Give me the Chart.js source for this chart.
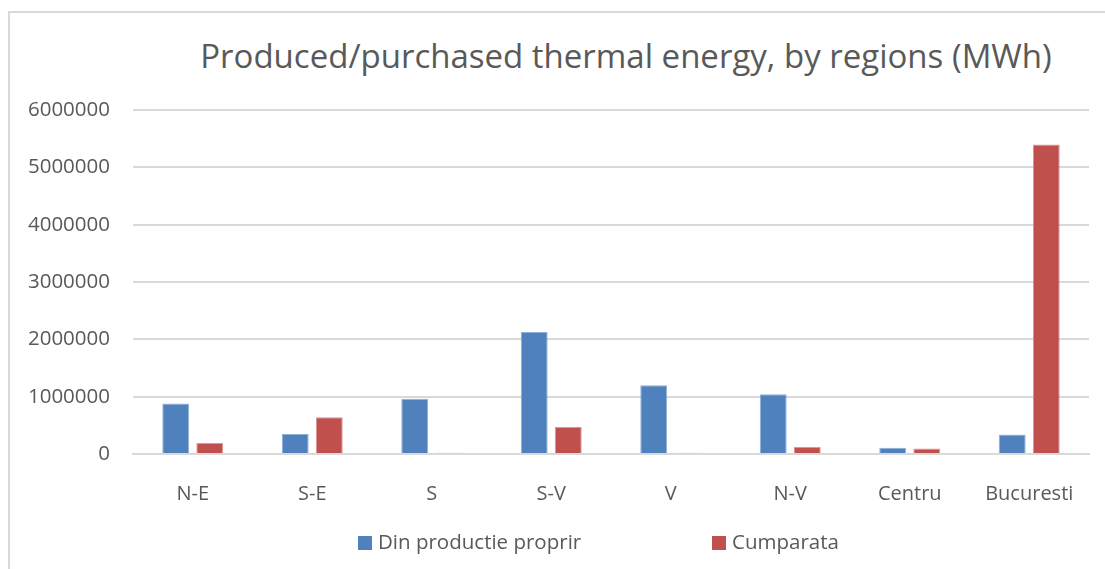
<!DOCTYPE html>
<html>
<head>
<meta charset="utf-8">
<script src="https://cdn.jsdelivr.net/npm/chart.js@4/dist/chart.umd.min.js"></script>
<style>
  body { margin: 0; background: #fff; font-family: "Open Sans", sans-serif; }
  #wrap { position: relative; width: 1105px; height: 569px; overflow: hidden; }
  #frame { position: absolute; left: 8px; top: 11px; width: 1200px; height: 700px;
           border-top: 2px solid #d9d9d9; border-left: 2px solid #d9d9d9; }
  #title { position: absolute; left: 0; width: 1252px; top: 33px; text-align: center;
           font-size: 33px; color: #595959; }
  #legend { position: absolute; top: 527px; left: 0; width: 1105px; height: 26px; font-size: 20.5px; color: #595959; }
  .item { position: absolute; top: 0; white-space: nowrap; }
  .box { display: inline-block; width: 14px; height: 14px; margin-right: 6px; vertical-align: -1px; }
  canvas { position: absolute; left: 0; top: 0; }
</style>
</head>
<body>
<div id="wrap">
  <div id="frame"></div>
  <div id="title">Produced/purchased thermal energy, by regions (MWh)</div>
  <canvas id="myChart" width="1105" height="569"></canvas>
  <div id="legend"></div>
</div>
<script>
const regions = ['N-E', 'S-E', 'S', 'S-V', 'V', 'N-V', 'Centru', 'Bucuresti'];
const ownProduction = [880000, 350000, 965000, 2130000, 1200000, 1040000, 110000, 340000];
const purchased = [190000, 640000, 22000, 470000, 20000, 120000, 95000, 5400000];
const seriesNames = ['Din productie proprir', 'Cumparata'];
const yTicks = [0, 1000000, 2000000, 3000000, 4000000, 5000000, 6000000];

const colors = ['#4f81bd', '#c0504d'];
const borders = ['#8fb0d8', '#d99694'];
const legendX = [358, 712];

function drawChart() {
    const ctx = document.getElementById('myChart').getContext('2d');
    const font = { family: '"Open Sans", sans-serif', size: 20 };

    new Chart(ctx, {
        type: 'bar',
        data: {
            labels: regions,
            datasets: [ownProduction, purchased].map((d, i) => ({
                label: seriesNames[i],
                data: d,
                backgroundColor: colors[i],
                borderColor: borders[i],
                borderWidth: 1,
                categoryPercentage: 0.57,
                barPercentage: 0.79
            }))
        },
        options: {
            responsive: false,
            animation: false,
            layout: { padding: { top: 110, right: 16, left: 0, bottom: 0 } },
            plugins: { legend: { display: false }, title: { display: false }, tooltip: { enabled: false } },
            scales: {
                x: {
                    grid: { display: false },
                    border: { color: '#d9d9d9', width: 2 },
                    ticks: { font: font, color: '#595959', padding: 20 },
                    afterFit: s => { s.height = 115; }
                },
                y: {
                    min: 0,
                    max: 6000000,
                    afterBuildTicks: s => { s.ticks = yTicks.map(v => ({ value: v })); },
                    grid: { color: '#d9d9d9', lineWidth: 2, drawTicks: false },
                    border: { display: false },
                    ticks: { font: { family: font.family, size: 20.5 }, color: '#595959', padding: 23, callback: v => String(v) },
                    afterFit: s => { s.width = 133; }
                }
            }
        }
    });

    // legend below the chart
    const legend = document.getElementById('legend');
    seriesNames.forEach((name, i) => {
        const el = document.createElement('div');
        el.className = 'item';
        el.style.left = legendX[i] + 'px';
        el.innerHTML = '<span class="box" style="background:' + colors[i] + '"></span>' + name;
        legend.appendChild(el);
    });
}

window.onload = drawChart;
</script>
</body>
</html>
